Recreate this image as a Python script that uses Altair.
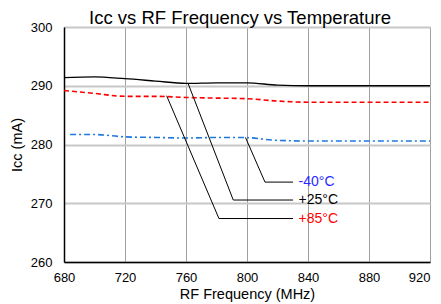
import altair as alt
import pandas as pd

freq_25 = [680, 700, 720, 740, 760, 780, 800, 820, 840, 880, 920]
icc_25 = [291.4, 291.5, 291.2, 290.8, 290.4, 290.5, 290.5, 290.1, 290.0, 290.0, 290.0]

freq_85 = [680, 700, 720, 740, 760, 780, 800, 820, 840, 880, 920]
icc_85 = [289.2, 288.7, 288.2, 288.2, 288.0, 287.9, 287.8, 287.4, 287.2, 287.2, 287.2]

freq_m40 = [684, 700, 720, 740, 760, 780, 797, 820, 840, 880, 920]
icc_m40 = [281.7, 281.7, 281.3, 281.2, 281.1, 281.2, 281.2, 280.7, 280.6, 280.6, 280.6]

labels = ["-40°C", "+25°C", "+85°C"]
label_colors = ["#2b2bff", "#000000", "#ff0000"]
# leader lines: start on curve, bend point, end near label (data units)
leader_x = [[799, 811.8, 830.2], [761.5, 791.0, 830.2], [747.3, 781.6, 830.2]]
leader_y = [[281.2, 273.6, 273.6], [290.3, 270.55, 270.55], [288.3, 267.4, 267.4]]
label_x = 832.5

df25 = pd.DataFrame({"f": freq_25, "icc": icc_25})
df85 = pd.DataFrame({"f": freq_85, "icc": icc_85})
dfm40 = pd.DataFrame({"f": freq_m40, "icc": icc_m40})

lead_rows = []
for i, lab in enumerate(labels):
    for j in range(3):
        lead_rows.append({"lab": lab, "order": j, "f": leader_x[i][j], "icc": leader_y[i][j]})
dflead = pd.DataFrame(lead_rows)
dflab = pd.DataFrame({"lab": labels, "f": [label_x] * 3,
                      "icc": [leader_y[i][2] for i in range(3)],
                      "col": label_colors})

xs = alt.Scale(domain=[680, 920], nice=False)
ys = alt.Scale(domain=[260, 300], nice=False)

X = alt.X("f:Q", scale=xs, title="RF Frequency (MHz)",
          axis=alt.Axis(values=list(range(680, 921, 40)), grid=True, gridColor="#a0a0a0",
                        gridWidth=1, ticks=False, labelPadding=9, labelFlush=False,
                        labelAlign=alt.ExprRef(expr="datum.value == 920 ? 'right' : 'center'"),
                        domainColor="#000000",
                        domainWidth=1.5, labelFontSize=13, titleFontSize=14.5,
                        titleFontWeight="normal", titlePadding=3, labelColor="#000",
                        titleColor="#000", labelFont="Liberation Sans", titleFont="Liberation Sans"))
Y = alt.Y("icc:Q", scale=ys, title="Icc (mA)",
          axis=alt.Axis(values=list(range(260, 301, 10)), grid=True, gridColor="#c8c8c8",
                        gridWidth=2, ticks=False, labelPadding=12, labelFlush=False,
                        domainColor="#000000",
                        domainWidth=1.5, labelFontSize=13, titleFontSize=14.5,
                        titleFontWeight="normal", titlePadding=6, labelColor="#000",
                        titleColor="#000", labelFont="Liberation Sans", titleFont="Liberation Sans"))

l25 = alt.Chart(df25).mark_line(color="#000000", strokeWidth=1.3, interpolate="monotone").encode(x=X, y=Y)
l85 = alt.Chart(df85).mark_line(color="#ff0000", strokeWidth=1.6, strokeDash=[5, 3],
                                interpolate="monotone").encode(x="f:Q", y="icc:Q")
lm40 = alt.Chart(dfm40).mark_line(color="#1f78e0", strokeWidth=1.6, strokeDash=[6, 3, 2, 3],
                                  interpolate="monotone").encode(x="f:Q", y="icc:Q")
lead = alt.Chart(dflead).mark_line(color="#000000", strokeWidth=1).encode(
    x="f:Q", y="icc:Q", detail="lab:N", order="order:Q")
text = alt.Chart(dflab).mark_text(align="left", baseline="middle", dx=2, fontSize=14,
                                  font="Liberation Sans").encode(
    x="f:Q", y="icc:Q", text="lab:N",
    color=alt.Color("col:N", scale=None))

chart = alt.layer(l25, l85, lm40, lead, text).properties(
    width=366, height=235,
    title=alt.Title("Icc vs RF Frequency vs Temperature", fontSize=18.5, fontWeight="normal",
                    font="Liberation Sans", color="#000", offset=6, dy=12, dx=-7),
    autosize=alt.AutoSizeParams(type="none"),
    padding={"left": 56, "top": 19, "right": 3, "bottom": 42},
).configure_view(stroke="#000000", strokeWidth=1.5).configure(background="#ffffff")

chart.save("out.html", embed_options={"renderer": "svg", "actions": False})
